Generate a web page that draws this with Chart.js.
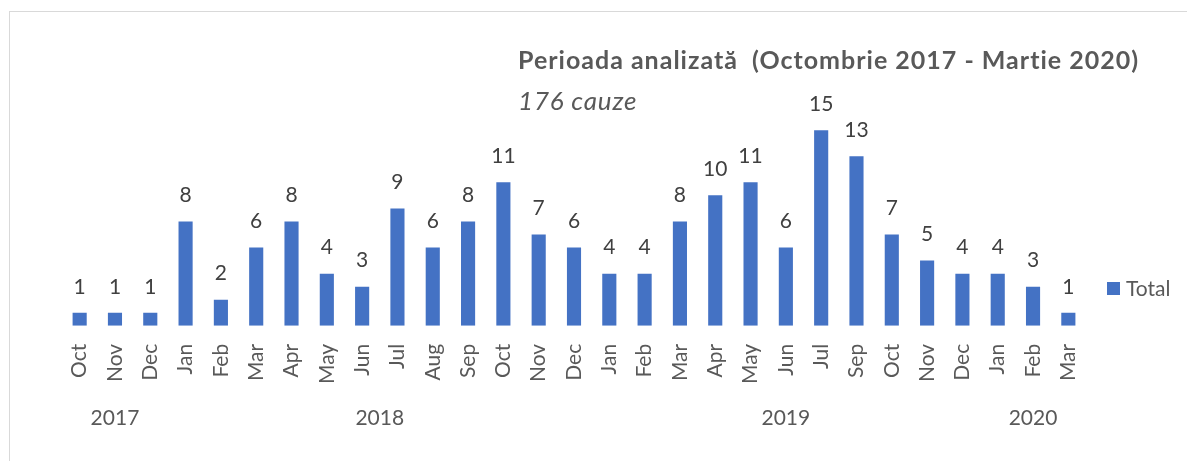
<!DOCTYPE html>
<html>
<head>
<meta charset="utf-8">
<script src="https://cdn.jsdelivr.net/npm/chart.js@4.4.0/dist/chart.umd.min.js"></script>
<style>
  html, body { margin: 0; padding: 0; background: #fff; }
  #wrap { position: relative; width: 1187px; height: 461px; overflow: hidden; }
  #frame { position: absolute; left: 9px; top: 11px; width: 1190px; height: 470px; border: 1px solid #d9d9d9; box-sizing: border-box; }
  canvas { position: absolute; left: 0; top: 0; }
  .title { position: absolute; left: 518px; top: 44px; font: bold 25px Lato, sans-serif; letter-spacing: 1px; color: #595959; white-space: pre; }
  .subtitle { position: absolute; left: 518px; top: 84px; font: italic 26px Lato, sans-serif; letter-spacing: 0.8px; color: #595959; }
</style>
</head>
<body>
<div id="wrap">
  <div id="frame"></div>
  <canvas id="chart" width="1187" height="461"></canvas>
  <div class="title">Perioada analizată  (Octombrie 2017 - Martie 2020)</div>
  <div class="subtitle">176 cauze</div>
</div>
<script>
// months shown on the axis (Aug 2019 is missing in the source)
let months = ['Oct', 'Nov', 'Dec',
  'Jan', 'Feb', 'Mar', 'Apr', 'May', 'Jun', 'Jul', 'Aug', 'Sep', 'Oct', 'Nov', 'Dec',
  'Jan', 'Feb', 'Mar', 'Apr', 'May', 'Jun', 'Jul', 'Sep', 'Oct', 'Nov', 'Dec',
  'Jan', 'Feb', 'Mar'];
let totals = [1, 1, 1,
  8, 2, 6, 8, 4, 3, 9, 6, 8, 11, 7, 6,
  4, 4, 8, 10, 11, 6, 15, 13, 7, 5, 4,
  4, 3, 1];
// year groups: label, first index, last index
let years = ['2017', '2018', '2019', '2020'];
let yearStart = [0, 3, 15, 26];
let yearEnd = [2, 14, 25, 28];

const textFont = 'Lato, sans-serif';

const extras = {
  id: 'extras',
  afterDraw(chart) {
    let ctx = chart.ctx;
    let x = chart.scales.x;
    let meta = chart.getDatasetMeta(0);
    ctx.save();
    // value labels
    ctx.font = '21px ' + textFont;
    ctx.fillStyle = '#404040';
    ctx.textAlign = 'center';
    ctx.textBaseline = 'middle';
    meta.data.forEach((bar, i) => {
      ctx.fillText(String(totals[i]), bar.x, bar.y - 26);
    });
    // year labels
    ctx.fillStyle = '#595959';
    years.forEach((y, i) => {
      let cx = (x.getPixelForValue(yearStart[i]) + x.getPixelForValue(yearEnd[i])) / 2;
      ctx.fillText(y, cx, 418);
    });
    // legend
    ctx.fillStyle = '#4472C4';
    ctx.fillRect(1107, 282, 13, 13);
    ctx.fillStyle = '#595959';
    ctx.textAlign = 'left';
    ctx.fillText('Total', 1126, 289);
    ctx.restore();
  }
};

new Chart(document.getElementById('chart'), {
  type: 'bar',
  data: {
    labels: months,
    datasets: [{
      label: 'Total',
      data: totals,
      backgroundColor: '#4472C4',
      barPercentage: 0.4,
      categoryPercentage: 1
    }]
  },
  options: {
    responsive: false,
    animation: false,
    layout: { padding: { left: 62, right: 101, top: 91, bottom: 67 } },
    plugins: {
      legend: { display: false },
      tooltip: { enabled: false }
    },
    scales: {
      x: {
        grid: { display: false },
        border: { display: false },
        ticks: {
          minRotation: 90,
          maxRotation: 90,
          autoSkip: false,
          padding: 10,
          color: '#595959',
          font: { family: textFont, size: 21 }
        }
      },
      y: {
        display: false,
        min: 0,
        max: 18
      }
    }
  },
  plugins: [extras]
});
</script>
</body>
</html>
